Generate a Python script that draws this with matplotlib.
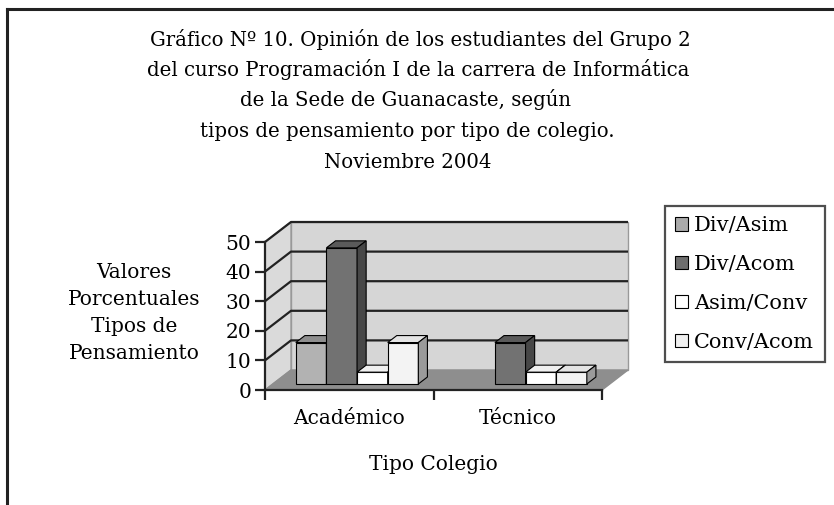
import matplotlib.pyplot as plt
from matplotlib.patches import Polygon, Patch
from matplotlib.lines import Line2D

plt.rcParams['font.family'] = 'DejaVu Serif'

# data
categories = ['Académico', 'Técnico']
series = ['Div/Asim', 'Div/Acom', 'Asim/Conv', 'Conv/Acom']
values = {
    'Div/Asim': [14, 0],
    'Div/Acom': [46, 14],
    'Asim/Conv': [4, 4],
    'Conv/Acom': [14, 4],
}
yticks = [0, 10, 20, 30, 40, 50]
title_lines = [
    'Gráfico Nº 10. Opinión de los estudiantes del Grupo 2',
    'del curso Programación I de la carrera de Informática',
    'de la Sede de Guanacaste, según',
    'tipos de pensamiento por tipo de colegio.',
    'Noviembre 2004',
]

# colours: front, top, side
colors = {
    'Div/Asim': ('#b2b2b2', '#8e8e8e', '#808080'),
    'Div/Acom': ('#727272', '#5a5a5a', '#474747'),
    'Asim/Conv': ('#ffffff', '#efefef', '#bdbdbd'),
    'Conv/Acom': ('#f3f3f3', '#e4e4e4', '#9a9a9a'),
}
legend_colors = ['#aaaaaa', '#6e6e6e', '#ffffff', '#f0f0f0']

W, H = 834, 505
fig = plt.figure(figsize=(W / 100, H / 100), dpi=100)

# front plane of the plot in pixels: x 265..602, y 390..242
ax = fig.add_axes([265 / W, (H - 390) / H, 337 / W, 148 / H])
ax.set_xlim(0, 2)
ax.set_ylim(0, 50)
ax.patch.set_visible(False)

DX = 26 / 168.5   # depth offset in data units
DY = 20 / 2.96


def P(x, y, d):
    return (x + d * DX, y + d * DY)


def poly(pts, fc, ec='black', lw=0.8, z=1):
    ax.add_patch(Polygon([P(*p) for p in pts], closed=True, facecolor=fc,
                         edgecolor=ec, linewidth=lw, clip_on=False, zorder=z))


ymax = yticks[-1]
n_cat = len(categories)
# walls and floor
poly([(0, 0, 1), (n_cat, 0, 1), (n_cat, ymax, 1), (0, ymax, 1)], '#d6d6d6', ec='#999999', lw=1)
poly([(0, 0, 0), (0, 0, 1), (0, ymax, 1), (0, ymax, 0)], '#dadada', ec='#999999', lw=1)
poly([(0, 0, 0), (n_cat, 0, 0), (n_cat, 0, 1), (0, 0, 1)], '#8e8e8e', ec='#8e8e8e', lw=1)

for v in yticks[1:]:
    a, b = P(0, v, 0), P(0, v, 1)
    c = P(n_cat, v, 1)
    ax.plot([a[0], b[0], c[0]], [a[1], b[1], c[1]], color='#222222', lw=1.6,
            clip_on=False, zorder=1.5, solid_capstyle='butt')

# bars
bw = 1 / (len(series) + 1.5)
d0, d1 = 0.3, 0.65
for ci in range(n_cat):
    x_start = ci + 0.5 - bw * len(series) / 2
    for si, s in enumerate(series):
        v = values[s][ci]
        if v <= 0:
            continue
        x0 = x_start + si * bw
        x1 = x0 + bw
        fc, tc, sc = colors[s]
        poly([(x0, 0, d0), (x1, 0, d0), (x1, v, d0), (x0, v, d0)], fc, z=2)
        poly([(x0, v, d0), (x1, v, d0), (x1, v, d1), (x0, v, d1)], tc, z=2)
        poly([(x1, 0, d0), (x1, 0, d1), (x1, v, d1), (x1, v, d0)], sc, z=2)

# axes
for sp in ['top', 'right']:
    ax.spines[sp].set_visible(False)
for sp in ['left', 'bottom']:
    ax.spines[sp].set_linewidth(1.6)
    ax.spines[sp].set_color('#222222')
ax.set_yticks(yticks)
ax.tick_params(axis='y', direction='out', length=7, width=1.6, pad=3,
               labelsize=14.5, color='#222222')
ax.set_xticks(range(n_cat + 1))
ax.set_xticklabels([])
ax.tick_params(axis='x', which='major', direction='out', length=7, width=1.6,
               color='#222222')
ax.set_xticks([i + 0.5 for i in range(n_cat)], minor=True)
ax.set_xticklabels(categories, minor=True)
ax.tick_params(axis='x', which='minor', length=0, pad=14, labelsize=14.5)
ax.set_xlabel('Tipo Colegio', fontsize=14.5, labelpad=19)

fig.text(134 / W, 1 - 313 / H, 'Valores\nPorcentuales\nTipos de\nPensamiento',
         ha='center', va='center', fontsize=14.5, linespacing=1.55)

# title
centers = [420, 418, 406, 407, 408]
baselines = [46, 76, 106, 137, 168]
for line, cx, by in zip(title_lines, centers, baselines):
    fig.text(cx / W, 1 - by / H, line, ha='center', va='baseline', fontsize=14.2)

# legend
handles = [Patch(facecolor=c, edgecolor='black', linewidth=0.8) for c in legend_colors]
leg = fig.legend(handles, series, loc='upper left',
                 bbox_to_anchor=(665 / W, 1 - 206 / H), borderaxespad=0,
                 fontsize=15, frameon=True, fancybox=False, edgecolor='#222222',
                 handlelength=0.6, handleheight=0.6, handletextpad=0.3,
                 labelspacing=0.95, borderpad=0.5)
leg.get_frame().set_linewidth(1.6)

# outer frame
fig.add_artist(Line2D([7 / W, 7 / W], [0, 1 - 9 / H], color='#222222', lw=2.2))
fig.add_artist(Line2D([7 / W, 1], [1 - 9 / H, 1 - 9 / H], color='#222222', lw=2.2))

fig.savefig('out.png', dpi=100)
